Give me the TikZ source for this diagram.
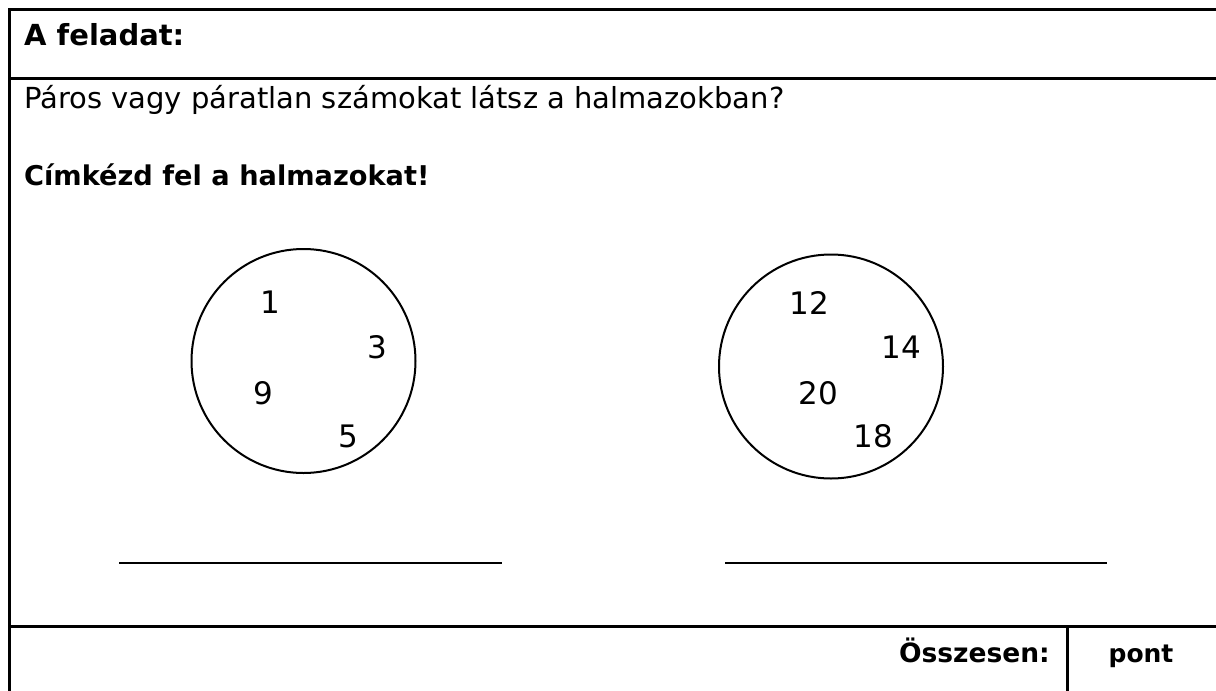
\documentclass[tikz,border=0pt]{standalone}
\usepackage{fontspec}
\setmainfont{DejaVu Sans}
\begin{document}
\begin{tikzpicture}[x=1pt,y=-1pt,
  frame/.style={line width=3pt},
  txt/.style={inner sep=0pt},
  num/.style={inner sep=0pt,font=\fontsize{31}{34}\selectfont},
  setc/.style={circle,draw,line width=2pt,minimum size=224pt,inner sep=0pt},
  blank/.style={line width=2.5pt}]
\useasboundingbox (0,0) rectangle (1216,691);
% frame
\coordinate (tl) at (9,9);
\coordinate (tr) at (1216,9);
\coordinate (bl) at (9,691);
\coordinate (hl) at (9,78);
\coordinate (hr) at (1216,78);
\coordinate (fl) at (9,626);
\coordinate (fr) at (1216,626);
\coordinate (vt) at (1067,626);
\coordinate (vb) at (1067,691);
\draw[frame] (bl) -- (tl) -- (tr);
\draw[frame] (hl) -- (hr);
\draw[frame] (fl) -- (fr);
\draw[frame] (vt) -- (vb);
% texts
\node[txt,anchor=base west,font=\fontsize{29}{32}\selectfont\bfseries] (title) at (24,45) {A feladat:};
\node[txt,anchor=base west,font=\fontsize{29}{32}\selectfont] (q) at (24,108) {Páros vagy páratlan számokat látsz a halmazokban?};
\node[txt,anchor=base west,font=\fontsize{27.2}{30}\selectfont\bfseries] (task) at (24,185) {Címkézd fel a halmazokat!};
\node[txt,anchor=base east,font=\fontsize{26.5}{30}\selectfont\bfseries] (sum) at (1050,662) {Összesen:};
\node[txt,anchor=base,font=\fontsize{25}{28}\selectfont\bfseries] (pont) at (1141,662) {pont};
% sets
\node[setc] (L) at (303.5,361) {};
\node[setc] (R) at (831,366.5) {};
\node[num] (n1) at (270,302) {1};
\node[num] (n3) at (377,347) {3};
\node[num] (n9) at (263,393) {9};
\node[num] (n5) at (348,436) {5};
\node[num] (n12) at (809,303) {12};
\node[num] (n14) at (901,347) {14};
\node[num] (n20) at (818,393) {20};
\node[num] (n18) at (873,436) {18};
% answer lines
\coordinate (la) at (119,563);
\coordinate (lb) at (502,563);
\coordinate (ra) at (725,563);
\coordinate (rb) at (1107,563);
\draw[blank] (la) -- (lb);
\draw[blank] (ra) -- (rb);
\end{tikzpicture}
\end{document}
